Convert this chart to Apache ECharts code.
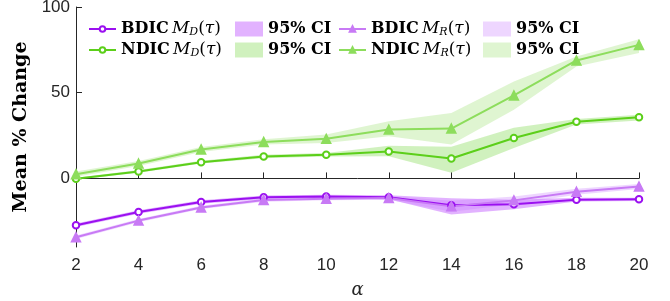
<!DOCTYPE html>
<html style="height: 100%">
<head>
<meta charset="utf-8">
</head>
<body style="height: 100%; margin: 0; background: #fff">
	<div id="container" style="width: 670px; height: 301px"></div>
	<script type="text/javascript" src="https://cdn.jsdelivr.net/npm/echarts/dist/echarts.min.js"></script>
	<script type="text/javascript">
		var alpha = [ '2', '4', '6', '8', '10', '12', '14', '16', '18', '20' ];
		var bdicMD = [ -27.3, -19.6, -13.8, -11.0, -10.5, -11.0, -15.7, -15.1, -12.4, -12.2 ];
		var bdicMDLo = [ -28.3, -20.6, -14.8, -12.0, -11.5, -12.2, -21.0, -18.0, -13.5, -13.2 ];
		var bdicMDHi = [ -26.3, -18.6, -12.8, -10.0, -9.5, -9.8, -11.5, -12.5, -11.3, -11.2 ];
		var bdicMR = [ -34.3, -24.6, -16.9, -12.6, -11.8, -11.4, -16.3, -12.8, -7.8, -4.7 ];
		var bdicMRLo = [ -35.3, -25.6, -17.9, -13.6, -12.8, -12.4, -19.5, -15.0, -9.5, -6.2 ];
		var bdicMRHi = [ -33.3, -23.6, -15.9, -11.6, -10.8, -10.4, -13.0, -10.5, -6.0, -3.2 ];
		var ndicMD = [ -0.2, 4.1, 9.5, 12.8, 13.8, 15.7, 11.6, 23.6, 33.1, 35.7 ];
		var ndicMDLo = [ -0.8, 3.3, 8.7, 11.8, 12.8, 13.0, 3.3, 17.8, 31.4, 33.8 ];
		var ndicMDHi = [ 0.4, 4.9, 10.3, 13.8, 14.8, 19.0, 18.5, 29.5, 34.7, 37.2 ];
		var ndicMR = [ 2.5, 8.7, 16.9, 21.3, 23.1, 28.5, 29.1, 48.4, 68.8, 77.9 ];
		var ndicMRLo = [ 1.0, 7.2, 15.4, 19.8, 20.7, 24.6, 19.8, 40.1, 65.3, 73.1 ];
		var ndicMRHi = [ 4.0, 10.2, 18.4, 22.8, 25.6, 33.3, 38.2, 56.6, 71.1, 81.2 ];
		var yTicks = [ 0, 50, 100 ];

		var cBD = '#9b10f0', cBDR = '#c87af5', cND = '#5ccf1a', cNDR = '#8ddd5c';
		var bBD = 'rgba(160,0,255,0.3)', bBDR = 'rgba(200,120,255,0.3)';
		var bND = 'rgba(100,210,40,0.3)', bNDR = 'rgba(140,220,90,0.28)';
		var axisColor = '#262626';

		// CI band = invisible lower line + stacked (hi - lo) area
		function band(name, lo, hi, color) {
			var diff = hi.map(function(h, i) { return +(h - lo[i]).toFixed(2); });
			return [ {
				type : 'line', stack : name, stackStrategy : 'all', data : lo,
				symbol : 'none', lineStyle : { opacity : 0 }, silent : true, z : 1
			}, {
				name : name, type : 'line', stack : name, stackStrategy : 'all', data : diff,
				symbol : 'none', lineStyle : { opacity : 0 }, itemStyle : { color : color },
				areaStyle : { color : color, opacity : 1 }, silent : true, z : 1
			} ];
		}

		function line(name, v, color, sym) {
			return {
				name : name, type : 'line', data : v, z : 3,
				symbol : sym, symbolSize : sym === 'triangle' ? 9 : 6.5,
				lineStyle : { color : color, width : 2 },
				itemStyle : { color : color, borderColor : color, borderWidth : 1.5 }
			};
		}

		var rich = {
			b : { fontFamily : 'DejaVu Serif', fontWeight : 'bold', fontSize : 16, color : '#000', lineHeight : 20 },
			i : { fontFamily : 'DejaVu Serif', fontStyle : 'italic', fontSize : 17, color : '#000', lineHeight : 20 },
			n : { fontFamily : 'DejaVu Serif', fontSize : 17, color : '#000', lineHeight : 20 },
			s : { fontFamily : 'DejaVu Serif', fontStyle : 'italic', fontSize : 11, color : '#000', lineHeight : 20, padding : [ 7, 0, 0, 0 ] }
		};
		var labels = {
			bdMD : '{b|BDIC} {i|M}{s|D}{n|(}{i|τ}{n|)}',
			ndMD : '{b|NDIC} {i|M}{s|D}{n|(}{i|τ}{n|)}',
			bdMR : '{b|BDIC} {i|M}{s|R}{n|(}{i|τ}{n|)}',
			ndMR : '{b|NDIC} {i|M}{s|R}{n|(}{i|τ}{n|)}'
		};

		function legend(left, names, isBand) {
			return {
				orient : 'vertical', left : left, top : 19, padding : 0, itemGap : 1,
				itemWidth : isBand ? 28 : 27, itemHeight : isBand ? 15 : 7,
				selectedMode : false,
				data : names.map(function(n) {
					return isBand ? { name : n, icon : 'rect' } : { name : n };
				}),
				formatter : function(n) {
					return isBand ? '{b|95% CI}' : labels[n];
				},
				textStyle : { rich : rich, lineHeight : 20 }
			};
		}

		var series = [].concat(
			band('ciBD', bdicMDLo, bdicMDHi, bBD),
			band('ciBDR', bdicMRLo, bdicMRHi, bBDR),
			band('ciND', ndicMDLo, ndicMDHi, bND),
			band('ciNDR', ndicMRLo, ndicMRHi, bNDR),
			[ line('bdMD', bdicMD, cBD, 'emptyCircle'),
			  line('bdMR', bdicMR, cBDR, 'triangle'),
			  line('ndMD', ndicMD, cND, 'emptyCircle'),
			  line('ndMR', ndicMR, cNDR, 'triangle') ]);

		var myChart = echarts.init(document.getElementById('container'));
		myChart.setOption({
			animation : false,
			grid : { left : 76, right : 31, top : 7, bottom : 54, outerBoundsMode : 'none' },
			legend : [
				legend(88, [ 'bdMD', 'ndMD' ], false),
				legend(235, [ 'ciBD', 'ciND' ], true),
				legend(338, [ 'bdMR', 'ndMR' ], false),
				legend(483, [ 'ciBDR', 'ciNDR' ], true)
			],
			xAxis : {
				type : 'category', data : alpha, boundaryGap : false,
				name : 'α', nameLocation : 'middle', nameGap : 34,
				nameTextStyle : { fontFamily : 'DejaVu Serif', fontStyle : 'italic', fontSize : 18, color : axisColor },
				axisLine : { lineStyle : { color : axisColor, width : 1 } },
				axisTick : { inside : true, length : 6, alignWithLabel : true, lineStyle : { color : axisColor } },
				axisLabel : { fontFamily : 'Liberation Sans', fontSize : 17, color : axisColor, margin : 10 },
				splitLine : { show : false }
			},
			yAxis : {
				type : 'value', min : -40, max : 100,
				name : 'Mean % Change', nameLocation : 'middle', nameGap : 43,
				nameTextStyle : { fontFamily : 'DejaVu Serif', fontWeight : 'bold', fontSize : 19, color : '#000' },
				axisLine : { show : true, lineStyle : { color : axisColor, width : 1 } },
				axisTick : { show : true, inside : true, length : 6, customValues : yTicks, lineStyle : { color : axisColor } },
				axisLabel : { fontFamily : 'Liberation Sans', fontSize : 17, color : axisColor, margin : 6, customValues : yTicks },
				splitLine : { show : false }
			},
			series : series
		});
	</script>
</body>
</html>
